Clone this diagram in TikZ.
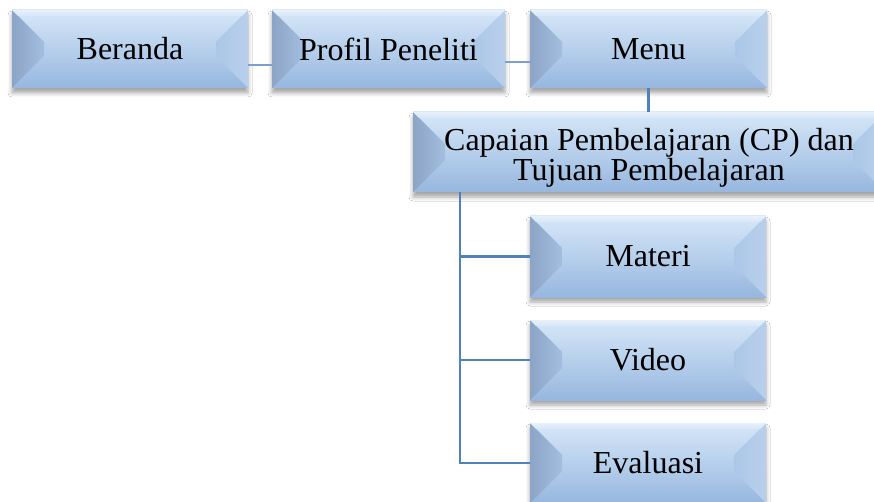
\documentclass[tikz,border=0pt]{standalone}
\usepackage{fontspec}
\setmainfont{Liberation Serif}
\usetikzlibrary{calc,shadows.blur}
\definecolor{bvtop}{HTML}{D6E7F8}
\definecolor{bvmid}{HTML}{A8C6E8}
\definecolor{bvbot}{HTML}{97B7DF}
\definecolor{bvleftA}{HTML}{8CA4C5}
\definecolor{bvleftB}{HTML}{A3BEDF}
\definecolor{bvrightA}{HTML}{B9D0EC}
\definecolor{bvrightB}{HTML}{ABC7E7}
\definecolor{conn}{HTML}{4F81BD}
\newcommand{\bfont}{\fontsize{32}{27}\selectfont}
\tikzset{
  bev/.style={rectangle, inner sep=0pt, align=center, font=\bfont,
    blur shadow={shadow xshift=0pt,shadow yshift=-5pt,shadow blur radius=4pt,shadow opacity=35},
    path picture={
      \coordinate (NW) at (path picture bounding box.north west);
      \coordinate (SE) at (path picture bounding box.south east);
      \coordinate (NE) at (path picture bounding box.north east);
      \coordinate (SW) at (path picture bounding box.south west);
      \shade[top color=bvtop, middle color=bvmid, bottom color=bvbot] (NW) rectangle (SE);
      \shade[left color=bvleftA, right color=bvleftB] (NW) -- ($(NW)+(32,32)$) -- ($(SW)+(32,-32)$) -- (SW) -- cycle;
      \shade[left color=bvrightB, right color=bvrightA] (NE) -- ($(NE)+(-32,32)$) -- ($(SE)+(-32,-32)$) -- (SE) -- cycle;
      \shade[top color=bvtop!60!white, bottom color=bvtop] (NW) -- (NE) -- ($(NE)+(-6,6)$) -- ($(NW)+(6,6)$) -- cycle;
    }},
  link/.style={draw=conn, line width=2.2pt},
  lightlink/.style={draw=conn!75!white, line width=1.6pt}
}
\begin{document}
\begin{tikzpicture}[x=1pt,y=-1pt]
\useasboundingbox[fill=white] (0,0) rectangle (874,502);
\node[bev, minimum width=236pt, minimum height=78pt] (beranda) at (130,49) {Beranda};
\node[bev, minimum width=233pt, minimum height=78pt] (profil) at (388.5,49) {Profil Peneliti};
\node[bev, minimum width=237pt, minimum height=78pt] (menu) at (648.5,49) {Menu};
\node[bev, minimum width=472pt, minimum height=80pt] (cp) at (649,152) {\rule{0pt}{33pt}Capaian Pembelajaran (CP) dan\\Tujuan Pembelajaran};
\node[bev, minimum width=236pt, minimum height=81pt] (materi) at (648,256.5) {Materi};
\node[bev, minimum width=236pt, minimum height=80pt] (video) at (648,360) {Video};
\node[bev, minimum width=236pt, minimum height=80pt] (evaluasi) at (648,463) {Evaluasi};
\coordinate (trunk) at (460,0);
\path[lightlink] ([yshift=-16pt]beranda.east) -- ([yshift=-16pt]profil.west);
\path[lightlink] ([yshift=-13pt]profil.east) -- ([yshift=-13pt]menu.west);
\path[link] (menu.south) -- (menu.south |- cp.north);
\path[link] (cp.south -| trunk) |- (materi.west);
\path[link] (cp.south -| trunk) |- (video.west);
\path[link] (cp.south -| trunk) |- (evaluasi.west);
\end{tikzpicture}
\end{document}
